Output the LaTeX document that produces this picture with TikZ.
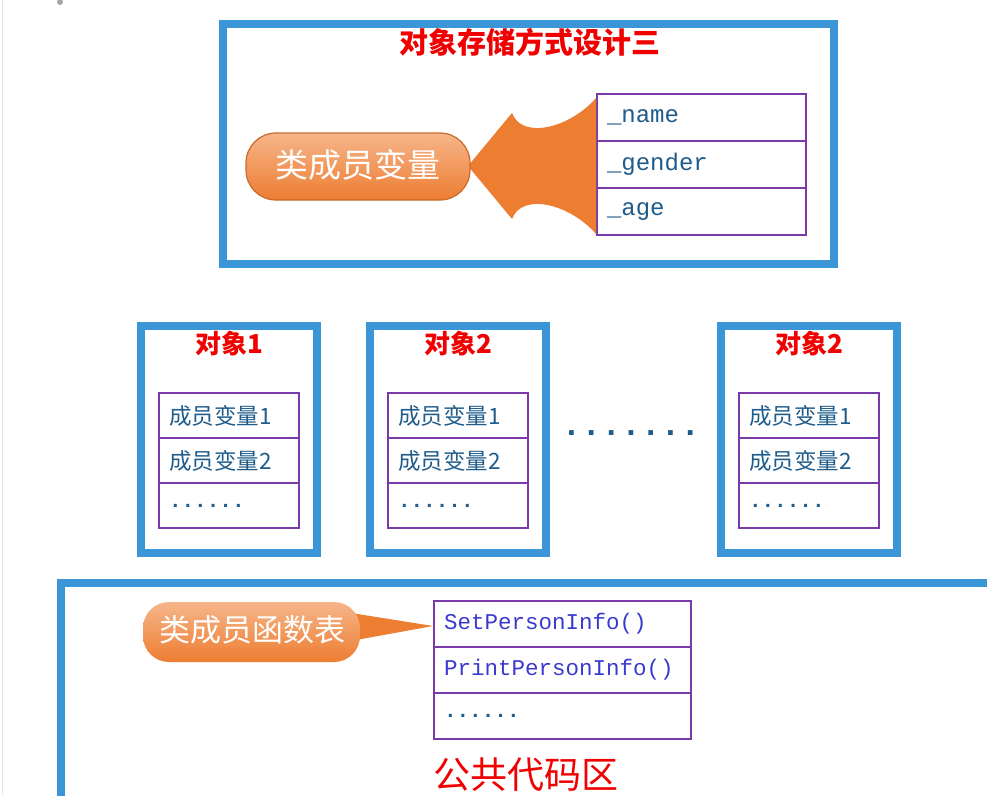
\documentclass[tikz,border=0pt]{standalone}
\usepackage{fontspec}
\newfontfamily\cjk{Noto Sans CJK SC}
\newfontfamily\mono{Liberation Mono}
\usetikzlibrary{calc}
\definecolor{frameblue}{HTML}{3A96D6}
\definecolor{cellpurple}{HTML}{7A3BA8}
\definecolor{txtblue}{HTML}{1F5C8B}
\definecolor{fnblue}{HTML}{3A3AD0}
\definecolor{orng}{HTML}{ED7D31}
\definecolor{orngl}{HTML}{F6B58A}
\definecolor{titlered}{HTML}{F00000}
\tikzset{
  frame/.style={draw=frameblue, line width=8pt},
  cell/.style={draw=cellpurple, line width=2pt, anchor=north west, inner xsep=10pt, inner ysep=0pt, align=left, font=\mono\fontsize{24}{26}\selectfont, text=txtblue},
  bigcell/.style={cell, text width=189pt, minimum height=47pt},
  objcell/.style={cell, text width=120pt, minimum height=45pt, font=\cjk\fontsize{22.5}{25}\selectfont, inner xsep=10pt},
  fncell/.style={cell, text width=237pt, minimum height=46pt, text=fnblue, font=\mono\fontsize{22.5}{25}\selectfont},
  redtitle/.style={text=titlered, font=\cjk\bfseries\fontsize{26}{28}\selectfont},
  bubbletext/.style={text=white, font=\cjk\fontsize{32}{34}\selectfont}
}
\begin{document}
\begin{tikzpicture}[x=1pt,y=-1pt]
\useasboundingbox (0,0) rectangle (987,795);
\fill[white] (0,0) rectangle (987,795);
\fill[gray!70] (60,2) circle (3);
\draw[gray!20, line width=1pt] (2,0) -- (2,795);

% ---------- top box ----------
\draw[frame] (223,24) rectangle (834,264);
\node[redtitle, font=\cjk\bfseries\fontsize{29}{31}\selectfont] (title) at (530,42) {对象存储方式设计三};

\node[bigcell] (fname) at (596,93) {\_name};
\node[bigcell] (fgender) at (596,140) {\_gender};
\node[bigcell] (fage) at (596,187) {\_age};

% block arrow
\fill[orng] (468,166) -- (512,113)
  .. controls (522,140) and (570,128) .. (596,98)
  -- (596,234)
  .. controls (570,204) and (522,192) .. (512,219) -- cycle;

\shade[top color=orngl, bottom color=orng, draw=orng!85!black, line width=1.2pt, rounded corners=30pt]
  (246,133) rectangle (470,200);
\node[bubbletext, font=\cjk\fontsize{33}{35}\selectfont] (clsvar) at (358,165) {类成员变量};

% ---------- object boxes ----------
\foreach \x/\name/\t in {137/o1/对象1, 366/o2/对象2, 717/o3/对象2}{
  \draw[frame] (\x+4,326) rectangle (\x+180,553);
  \node[redtitle] (\name title) at (\x+92,344) {\t};
  \node[objcell] (\name a) at (\x+21,392) {成员变量1};
  \node[objcell] (\name b) at (\x+21,437) {成员变量2};
  \node[objcell, font=\mono\bfseries\fontsize{21}{24}\selectfont] (\name c) at (\x+21,482) {......};
}
\node[text=txtblue, font=\mono\bfseries\fontsize{33}{36}\selectfont] (middots) at (631,433) {.......};

% ---------- bottom box ----------
\draw[frame] (61,583) rectangle (1000,820);

\node[fncell] (fset) at (433,600) {SetPersonInfo()};
\node[fncell] (fprint) at (433,646) {PrintPersonInfo()};
\node[fncell, text=txtblue, font=\mono\bfseries\fontsize{21}{24}\selectfont] (fdots) at (433,692) {......};

\fill[orng] (345,612) -- (433,626) -- (345,642) -- cycle;
\shade[top color=orngl, bottom color=orng, rounded corners=26pt]
  (143,602) rectangle (360,662);
\node[bubbletext, font=\cjk\fontsize{31}{33}\selectfont] (fntab) at (252,630) {类成员函数表};

\node[text=titlered, font=\cjk\fontsize{37}{40}\selectfont] (pub) at (526,775) {公共代码区};
\end{tikzpicture}
\end{document}
